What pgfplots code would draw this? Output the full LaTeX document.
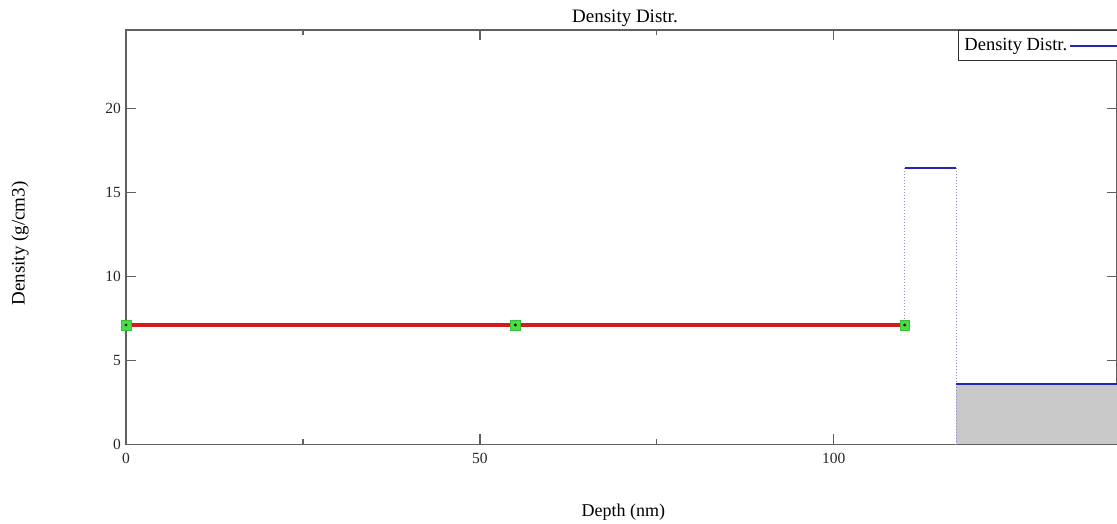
\documentclass[border=0pt]{standalone}
\usepackage{fontspec}
\setmainfont{Liberation Serif}
\usepackage{pgfplots}
\pgfplotsset{compat=1.18}
\definecolor{lineRed}{HTML}{D41A1A}
\definecolor{lineBlue}{HTML}{2424B4}
\definecolor{dotBlue}{HTML}{8C8CDC}
\definecolor{mkGreen}{HTML}{44E044}
\definecolor{fillGray}{HTML}{C8C8C8}
\definecolor{axGray}{HTML}{606060}
\begin{document}
\fontsize{15}{18}\selectfont
\begin{tikzpicture}
\useasboundingbox (0,0) rectangle (1117pt,524pt);
\begin{axis}[
  at={(126pt,79.7pt)}, anchor=south west,
  scale only axis, width=991pt, height=414.3pt,
  xmin=0, xmax=140, ymin=0, ymax=24.66,
  xtick={0,50,100}, minor xtick={25,75,125},
  ytick={0,5,10,15,20},
  tick align=inside,
  major tick length=10pt, minor tick length=5pt,
  axis line style={draw=axGray, line width=1.5pt},
  every tick/.style={draw=axGray, line width=1.2pt},
  /pgf/number format/assume math mode=true,
  ticklabel style={font=\fontsize{15.5}{18}\selectfont, text=black!85},
  xticklabel style={yshift=-4pt},
  title={Density Distr.},
  title style={at={(axis description cs:0.5035,1.0193)}, anchor=base, yshift=-7pt, font=\fontsize{19}{22}\selectfont},
  xlabel={Depth (nm)},
  xlabel style={at={(axis description cs:0.502,-0.1634)}, anchor=center, font=\fontsize{18}{21}\selectfont},
  ylabel={Density (g/cm3)},
  ylabel style={at={(axis description cs:-0.107,0.4847)}, anchor=center, font=\fontsize{19}{22}\selectfont},
  legend style={at={(axis description cs:0.8396,1)}, anchor=north west,
    draw=black!80, line width=0.8pt, font=\fontsize{18.5}{21}\selectfont,
    legend plot pos=right, inner xsep=4pt, inner ysep=6pt},
  legend image code/.code={\draw[#1, line width=2pt] (0pt,0pt) -- (60pt,0pt);},
]
% gray filled area under the last layer
\addplot[fill=fillGray, draw=none, forget plot] coordinates {(117.3,3.59) (140,3.59)} \closedcycle;
% dotted vertical connectors
\addplot[dotted, dotBlue, line width=1pt, forget plot] coordinates {(110,7.1) (110,16.45)};
\addplot[dotted, dotBlue, line width=1pt, forget plot] coordinates {(117.3,16.45) (117.3,0)};
% blue density steps
\addplot[lineBlue, line width=2pt] coordinates {(110,16.45) (117.3,16.45)};
\addlegendentry{Density Distr.}
\addplot[lineBlue, line width=2pt, forget plot] coordinates {(117.3,3.59) (140,3.59)};
% red selected layer
\addplot[lineRed, line width=3.8pt, forget plot] coordinates {(0,7.1) (110,7.1)};
% green handles
\addplot[only marks, mark=square*, mark size=4.8pt, mark options={fill=mkGreen, draw=mkGreen!85!black, line width=0.5pt}, forget plot]
  coordinates {(0,7.1) (55,7.1) (110,7.1)};
\addplot[only marks, mark=*, mark size=1.2pt, mark options={fill=red!50!black, draw=none}, forget plot]
  coordinates {(0,7.1) (55,7.1) (110,7.1)};
\end{axis}
\end{tikzpicture}
\end{document}
